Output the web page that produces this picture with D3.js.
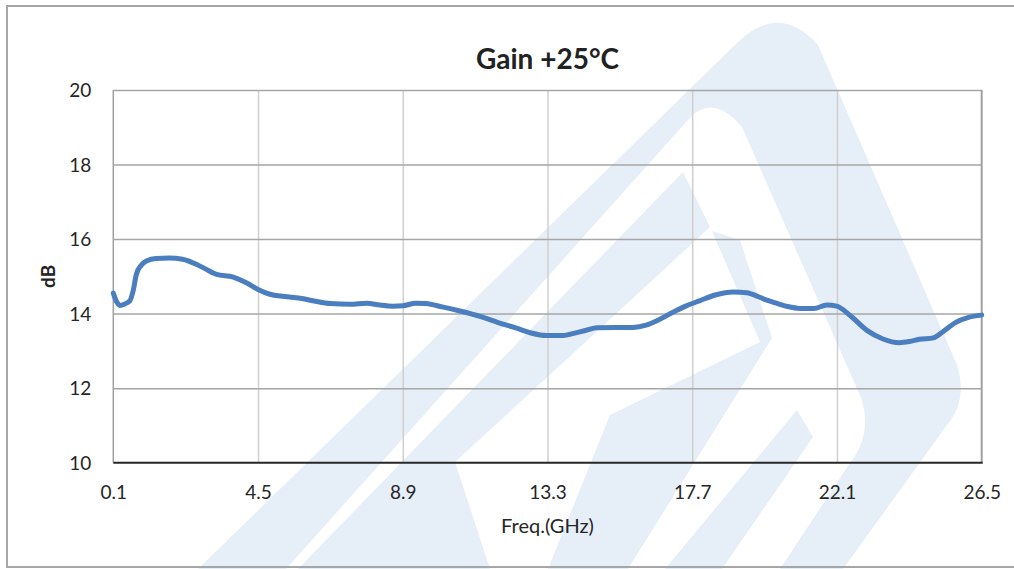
<!DOCTYPE html>
<html>
<head>
<meta charset="utf-8">
<script src="https://cdn.jsdelivr.net/npm/d3@7"></script>
<style>
  html, body { margin: 0; padding: 0; background: #fff; }
  svg { display: block; }
  text { font-family: Lato, "Open Sans", sans-serif; }
</style>
</head>
<body>
<svg id="chart" width="1014" height="569"></svg>
<script>
// Measured gain at +25 °C versus frequency
const freqGHz = [0.1, 0.2, 0.3, 0.45, 0.6, 0.7, 0.8, 0.95, 1.12, 1.4, 1.8, 2.2, 2.64, 2.9, 3.24, 3.75,
  4.16, 4.5, 4.86, 5.3, 5.78, 6.2, 6.7, 7.3, 7.8, 8.2, 8.6, 8.9, 9.3, 9.6, 10.1, 10.64, 11.3, 11.8,
  12.36, 12.8, 13.28, 13.78, 14.1, 14.5, 14.8, 15.4, 15.9, 16.3, 16.7, 17.1, 17.5, 17.94, 18.4, 18.95,
  19.36, 19.7, 19.97, 20.3, 20.6, 20.98, 21.4, 21.79, 22.09, 22.5, 23.01, 23.5, 24.0, 24.3, 24.6,
  25.03, 25.3, 25.7, 26.1, 26.5];
const gainDb = [14.55, 14.32, 14.22, 14.26, 14.34, 14.6, 15.05, 15.3, 15.42, 15.48, 15.49, 15.46, 15.32,
  15.2, 15.05, 14.98, 14.82, 14.65, 14.52, 14.46, 14.41, 14.34, 14.27, 14.25, 14.28, 14.23, 14.2, 14.21,
  14.28, 14.27, 14.18, 14.07, 13.91, 13.76, 13.61, 13.48, 13.41, 13.41, 13.47, 13.56, 13.62, 13.63,
  13.63, 13.69, 13.84, 14.03, 14.2, 14.35, 14.5, 14.58, 14.56, 14.46, 14.36, 14.27, 14.19, 14.14,
  14.14, 14.23, 14.2, 13.95, 13.55, 13.32, 13.22, 13.25, 13.31, 13.35, 13.5, 13.76, 13.9, 13.96];

const xTicks = [0.1, 4.5, 8.9, 13.3, 17.7, 22.1, 26.5];
const yTicks = [10, 12, 14, 16, 18, 20];

const title = "Gain +25°C";
const xLabel = "Freq.(GHz)";
const yLabel = "dB";

const svg = d3.select("#chart");
const W = 1014, H = 569;
const plot = { left: 113.3, right: 981.7, top: 90, bottom: 462.7 };

const x = d3.scaleLinear().domain([0.1, 26.5]).range([plot.left, plot.right]);
const y = d3.scaleLinear().domain([10, 20]).range([plot.bottom, plot.top]);

// Light logo watermark behind the chart
const wm = svg.append("g").attr("fill", "#e6eef7");
[
  "M198,569 L738,42 Q780,2 818,45 L957,365 Q968,400 947,425 L843,569 L780,569 L850,463 Q872,435 862,400 L742,127 Q712,92 688,120 L286,569 Z",
  "M298,569 L683,172 L710,227 L580,347 L455,462 L490,569 Z",
  "M712,231 L740,240 L772,338 L628,569 L548,569 L610,415 L760,342 Z",
  "M797,410 L813,437 L722,569 L665,569 Z"
].forEach(d => wm.append("path").attr("d", d));

// Outer frame
svg.append("rect")
  .attr("x", 7).attr("y", 6).attr("width", W + 4 - 7).attr("height", 561)
  .attr("fill", "none").attr("stroke", "#a6a6a6").attr("stroke-width", 2);

// Vertical gridlines
svg.append("g")
  .attr("transform", `translate(0,${plot.bottom})`)
  .call(d3.axisBottom(x).tickValues(xTicks.slice(1, -1)).tickSize(-(plot.bottom - plot.top)).tickFormat(""))
  .call(g => g.select(".domain").remove())
  .call(g => g.selectAll("line").attr("stroke", "#cfcfcf").attr("stroke-width", 1.5));

// Horizontal gridlines
svg.append("g")
  .attr("transform", `translate(${plot.left},0)`)
  .call(d3.axisLeft(y).tickValues(yTicks.slice(1)).tickSize(-(plot.right - plot.left)).tickFormat(""))
  .call(g => g.select(".domain").remove())
  .call(g => g.selectAll("line").attr("stroke", "#a6a6a6").attr("stroke-width", 1.5));

// Left and right plot edges
svg.append("line").attr("x1", x(0.1)).attr("x2", x(0.1)).attr("y1", plot.top).attr("y2", plot.bottom)
  .attr("stroke", "#a0a0a0").attr("stroke-width", 1.5);
svg.append("line").attr("x1", x(26.5)).attr("x2", x(26.5)).attr("y1", plot.top).attr("y2", plot.bottom)
  .attr("stroke", "#a0a0a0").attr("stroke-width", 2);

// Bottom axis line
svg.append("line").attr("x1", plot.left).attr("x2", plot.right + 1).attr("y1", y(10)).attr("y2", y(10))
  .attr("stroke", "#262626").attr("stroke-width", 2);

// Tick labels
svg.append("g")
  .attr("transform", `translate(0,${plot.bottom})`)
  .call(d3.axisBottom(x).tickValues(xTicks).tickSize(0).tickPadding(0).tickFormat(d3.format(".1f")))
  .call(g => g.select(".domain").remove())
  .call(g => g.selectAll("text").attr("dy", null).attr("y", 36)
    .attr("font-size", 19).attr("fill", "#262626").attr("font-family", "Lato, sans-serif"));

svg.append("g")
  .attr("transform", `translate(${plot.left},0)`)
  .call(d3.axisLeft(y).tickValues(yTicks).tickSize(0).tickPadding(0).tickFormat(d3.format("d")))
  .call(g => g.select(".domain").remove())
  .call(g => g.selectAll("text").attr("x", -22).attr("dy", "0.35em")
    .attr("font-size", 19).attr("fill", "#262626").attr("font-family", "Lato, sans-serif"));

// Data line
const line = d3.line()
  .x((d, i) => x(freqGHz[i]))
  .y(d => y(d))
  .curve(d3.curveMonotoneX);

svg.append("path")
  .datum(gainDb)
  .attr("d", line)
  .attr("fill", "none")
  .attr("stroke", "#4a7ebf")
  .attr("stroke-width", 5)
  .attr("stroke-linejoin", "round")
  .attr("stroke-linecap", "round");

// Title and axis titles
svg.append("text")
  .attr("x", (plot.left + plot.right) / 2).attr("y", 69)
  .attr("text-anchor", "middle")
  .attr("font-size", 28).attr("font-weight", "bold").attr("fill", "#222")
  .text(title);

svg.append("text")
  .attr("x", (plot.left + plot.right) / 2).attr("y", 533)
  .attr("text-anchor", "middle")
  .attr("font-size", 20).attr("fill", "#262626")
  .text(xLabel);

svg.append("text")
  .attr("transform", `translate(55,${(plot.top + plot.bottom) / 2}) rotate(-90)`)
  .attr("text-anchor", "middle")
  .attr("font-size", 19).attr("font-weight", "bold").attr("fill", "#222")
  .text(yLabel);
</script>
</body>
</html>
